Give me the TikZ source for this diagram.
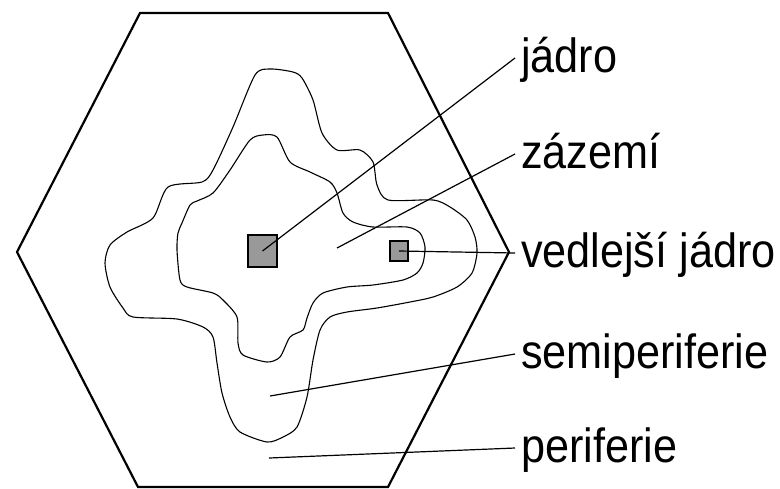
\documentclass[tikz,border=0pt]{standalone}
\usepackage{fontspec}
\newfontfamily\lblfont[FakeStretch=0.9]{Liberation Sans}
\usetikzlibrary{positioning}
\tikzset{hexline/.style={draw=black, line width=1.1pt, line join=miter},
    contour/.style={draw=black, line width=0.55pt},
    corebox/.style={draw=black, line width=1pt, fill=black!40, inner sep=0pt},
    lbl/.style={font=\lblfont\fontsize{24}{28}\selectfont, inner sep=0pt,
        outer xsep=3pt, text height=19pt, text depth=5pt, anchor=base west},
    connect/.style={draw=black, line width=0.6pt}}

\begin{document}
\begin{tikzpicture}[x=0.5pt, y=-0.5pt]
    \useasboundingbox (0,0) rectangle (780,488);

    % Region (hexagon)
    \draw[hexline] (140,13) -- (388,13) -- (509,252) -- (388,487) -- (138,487) -- (17,252) -- cycle;

    % Outer contour (semiperiferie)
    \draw[contour] plot[smooth cycle, tension=0.45] coordinates {
        (270,69) (293,72) (302,78) (313,100) (322,133) (337,150) (360,150)
        (373,162) (377,185) (388,200) (433,200) (450,207) (467,220) (475,237)
        (477,253) (472,273) (457,287) (433,297) (410,302) (377,308) (347,312)
        (330,317) (320,330) (313,360) (307,397) (297,427) (283,437) (267,442)
        (240,432) (230,417) (222,393) (217,363) (213,337) (203,327) (177,319)
        (133,317) (123,308) (110,287) (105,263) (110,245) (127,232) (153,218)
        (168,187) (202,182) (213,170) (233,127) (255,75)};

    % Inner contour (zazemi)
    \draw[contour] plot[smooth cycle, tension=0.45] coordinates {
        (263,135) (277,137) (290,162) (310,172) (330,182) (337,193) (343,213)
        (353,222) (373,227) (407,227) (420,233) (425,247) (423,263) (417,273)
        (403,280) (373,285) (347,287) (323,293) (313,303) (307,318) (303,330)
        (290,337) (280,357) (267,362) (243,355) (238,343) (237,317) (223,300)
        (213,293) (187,287) (180,280) (177,250) (178,233) (182,223) (190,205)
        (197,201) (213,193) (230,170) (250,140)};

    % Cores
    \node[corebox, minimum width=14.5pt, minimum height=16pt] (core) at (262.5,251) {};
    \node[corebox, minimum width=9pt, minimum height=10pt] (subcore) at (399,251) {};

    % Labels
    \node[lbl] (jadro) at (515,72) {jádro};
    \node[lbl] (zazemi) at (515,168) {zázemí};
    \node[lbl] (vedlejsi) at (515,267) {vedlejší jádro};
    \node[lbl] (semiper) at (515,368) {semiperiferie};
    \node[lbl] (perif) at (515,462) {periferie};

    \coordinate (pzaz) at (337,248);
    \coordinate (psemi) at (270,396);
    \coordinate (pper) at (269,458);

    % Connectors
    \draw[connect] (core.center) -- (jadro.west);
    \draw[connect] (pzaz) -- (zazemi.west);
    \draw[connect] (subcore.center) -- (vedlejsi.west);
    \draw[connect] (psemi) -- (semiper.west);
    \draw[connect] (pper) -- (perif.west);
\end{tikzpicture}
\end{document}
